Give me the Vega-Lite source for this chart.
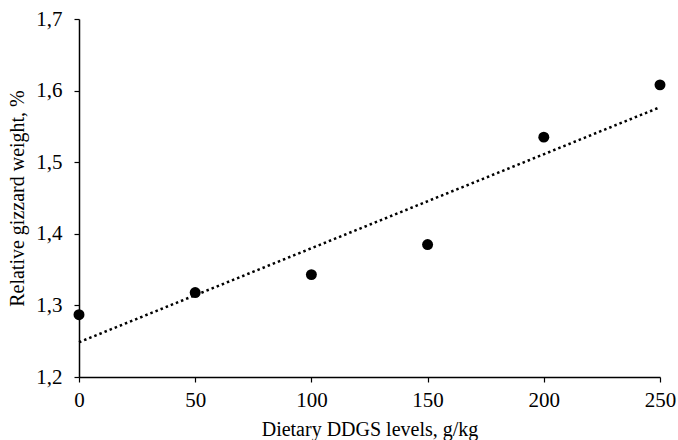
{
  "$schema": "https://vega.github.io/schema/vega-lite/v6.json",
  "autosize": "none",
  "width": 581,
  "height": 358,
  "padding": {"left": 79, "top": 19, "right": 18, "bottom": 63},
  "background": "white",
  "config": {
    "view": {"stroke": null},
    "font": "Liberation Serif",
    "axis": {
      "grid": false,
      "domainColor": "black",
      "domainWidth": 1.5,
      "tickColor": "black",
      "tickSize": 5,
      "tickWidth": 1.2,
      "labelColor": "black",
      "titleColor": "black",
      "labelFont": "Liberation Serif",
      "titleFont": "Liberation Serif",
      "labelFontSize": 21,
      "titleFontSize": 20,
      "titleFontWeight": "normal",
      "labelFlush": false
    }
  },
  "data": {
    "values": [
      {"ddgs": 0, "weight": 1.287},
      {"ddgs": 50, "weight": 1.318},
      {"ddgs": 100, "weight": 1.343},
      {"ddgs": 150, "weight": 1.385},
      {"ddgs": 200, "weight": 1.535},
      {"ddgs": 250, "weight": 1.608}
    ]
  },
  "layer": [
    {
      "transform": [{"regression": "weight", "on": "ddgs", "method": "linear"}],
      "mark": {"type": "line", "color": "black", "strokeWidth": 2.5, "strokeDash": [2.5, 3]},
      "encoding": {
        "x": {"field": "ddgs", "type": "quantitative"},
        "y": {"field": "weight", "type": "quantitative"}
      }
    },
    {
      "mark": {"type": "circle", "color": "black", "opacity": 1, "size": 120},
      "encoding": {
        "x": {
          "field": "ddgs", "type": "quantitative",
          "scale": {"domain": [0, 250], "nice": false},
          "axis": {"values": [0, 50, 100, 150, 200, 250], "title": "Dietary DDGS levels, g/kg", "labelPadding": 7, "titlePadding": 9}
        },
        "y": {
          "field": "weight", "type": "quantitative",
          "scale": {"domain": [1.2, 1.7], "nice": false, "zero": false},
          "axis": {"values": [1.2, 1.3, 1.4, 1.5, 1.6, 1.7], "labelExpr": "replace(format(datum.value, '.1f'), '.', ',')", "title": "Relative gizzard weight, %", "labelPadding": 12, "titlePadding": 8, "labelFlush": false}
        }
      }
    }
  ]
}
